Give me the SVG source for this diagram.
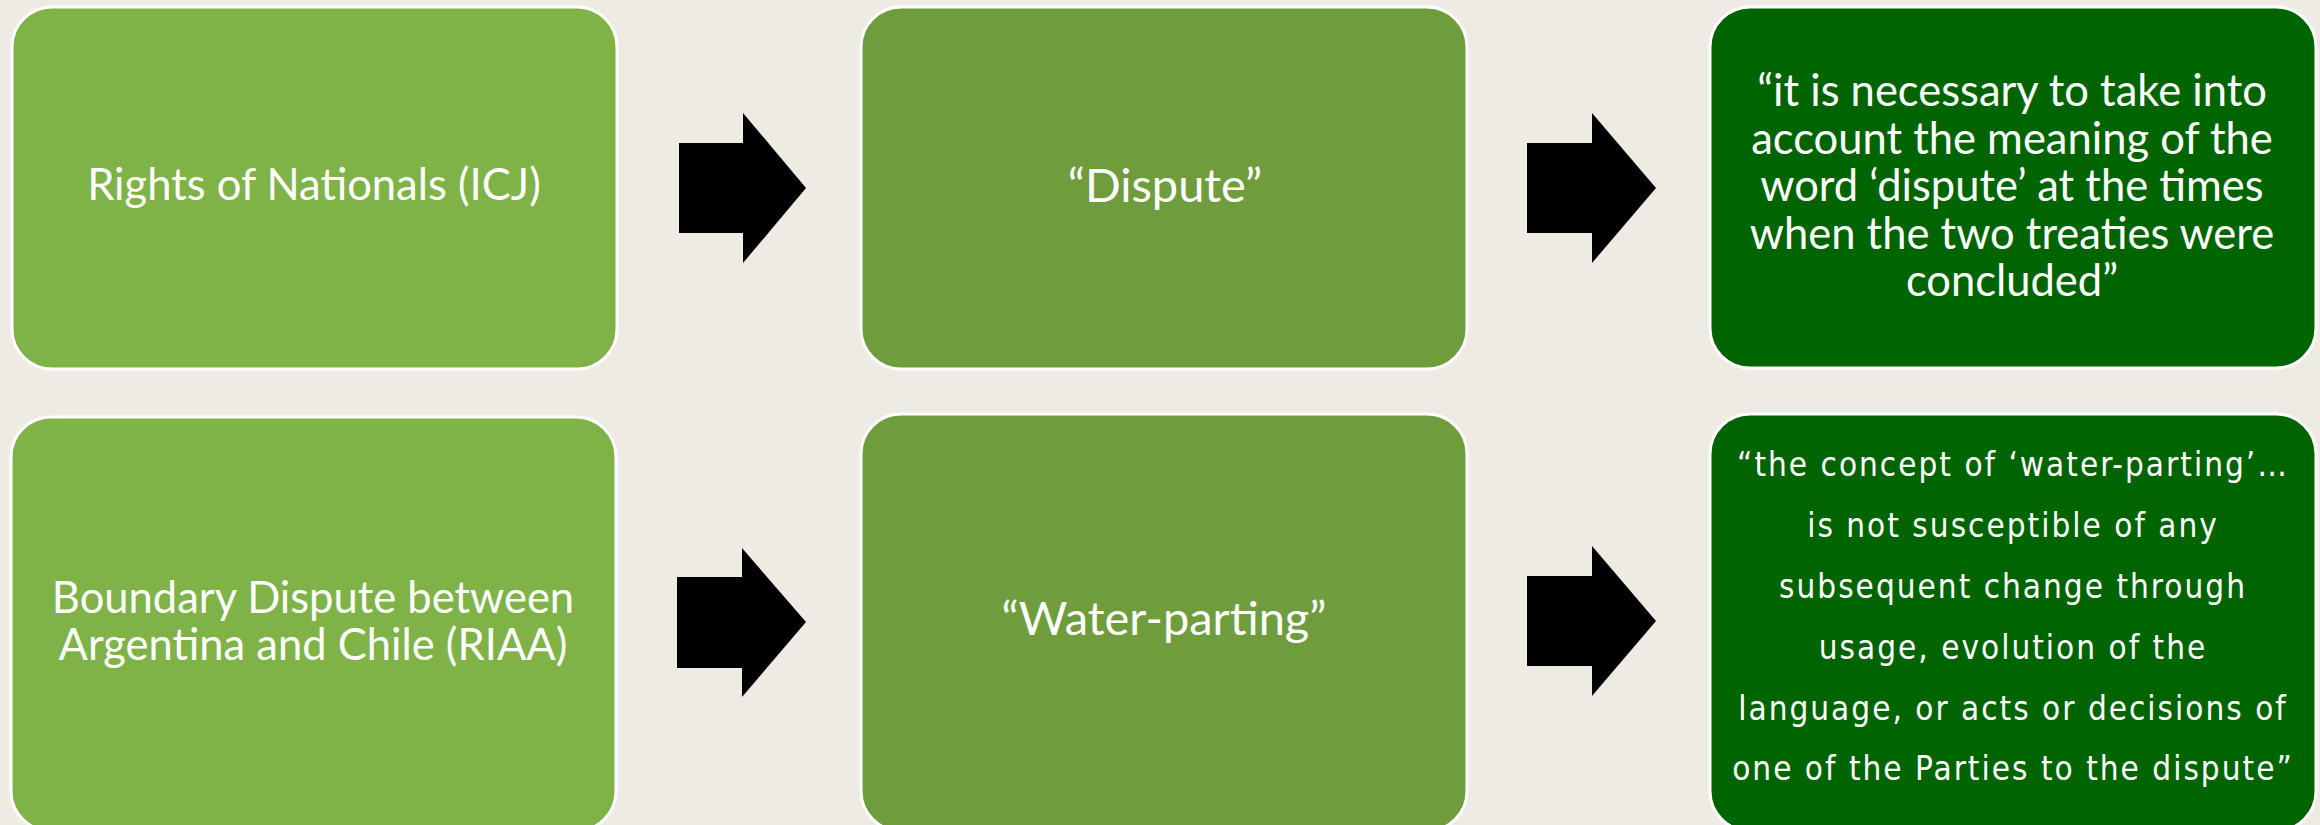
<svg xmlns="http://www.w3.org/2000/svg" width="2320" height="825" viewBox="0 0 2320 825">
<style>
.box{stroke:#ffffff;stroke-width:3}
.c1{fill:#7fb347}
.c2{fill:#6f9d3e}
.c3{fill:#006400}
.t{fill:#ffffff;font-family:Lato,"Liberation Sans",sans-serif;font-size:43.5px;text-anchor:middle}
.big{font-size:47px}
.q{fill:#ffffff;font-family:"DejaVu Sans Condensed","DejaVu Sans",sans-serif;font-stretch:condensed;font-size:33px;letter-spacing:2px;text-anchor:middle}
.arrow{fill:#000000}
</style>
<rect x="0" y="0" width="2320" height="825" fill="#eeebe4"/>
<g id="connectors">
<polygon class="arrow" points="679,143 743,143 743,113 806,188 743,263 743,233 679,233"/>
<polygon class="arrow" points="1527,143 1592,143 1592,113 1656,188 1592,263 1592,233 1527,233"/>
<polygon class="arrow" points="677,577 742,577 742,548 806,622 742,697 742,668 677,668"/>
<polygon class="arrow" points="1527,576 1592,576 1592,546 1656,621 1592,696 1592,666 1527,666"/>
</g>
<g id="n1"><rect class="box c1" x="12" y="7" width="605" height="362" rx="40"/><text class="t" x="314" y="200">Rights of Nationals (ICJ)</text></g>
<g id="n2"><rect class="box c2" x="861" y="7" width="606" height="362" rx="40"/><text class="t big" x="1165" y="202">“Dispute”</text></g>
<g id="n3"><rect class="box c3" x="1710" y="7" width="606" height="361" rx="40"/>
<text class="t" x="2012" y="106">“it is necessary to take into</text>
<text class="t" x="2012" y="153.5">account the meaning of the</text>
<text class="t" x="2012" y="201">word ‘dispute’ at the times</text>
<text class="t" x="2012" y="248.5">when the two treaties were</text>
<text class="t" x="2012" y="296">concluded”</text>
</g>
<g id="n4"><rect class="box c1" x="11" y="417" width="605" height="414" rx="40"/>
<text class="t" x="313" y="613">Boundary Dispute between</text>
<text class="t" x="313" y="660">Argentina and Chile (RIAA)</text>
</g>
<g id="n5"><rect class="box c2" x="861" y="414" width="606" height="417" rx="40"/><text class="t big" x="1164" y="635">“Water-parting”</text></g>
<g id="n6"><rect class="box c3" x="1710" y="414" width="606" height="417" rx="40"/>
<text class="q" x="2013" y="476">“the concept of ‘water-parting’…</text>
<text class="q" x="2013" y="537">is not susceptible of any</text>
<text class="q" x="2013" y="598">subsequent change through</text>
<text class="q" x="2013" y="659">usage, evolution of the</text>
<text class="q" x="2013" y="720">language, or acts or decisions of</text>
<text class="q" x="2013" y="780">one of the Parties to the dispute”</text>
</g>
</svg>
